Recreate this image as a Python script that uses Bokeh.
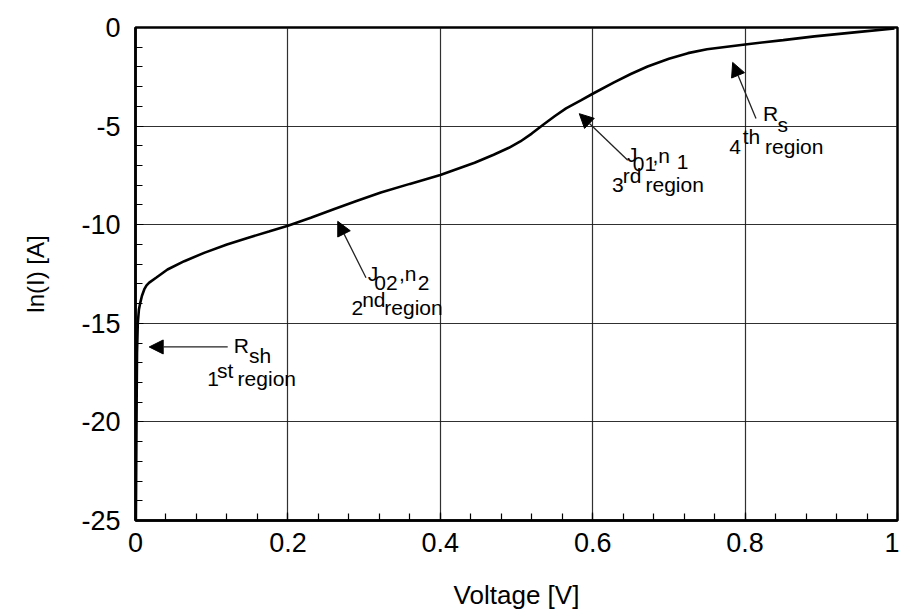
from bokeh.plotting import figure
from bokeh.models import (Range1d, FixedTicker, CustomJSTickFormatter, Arrow,
                          NormalHead, ColumnDataSource)
from bokeh.core.properties import value
from bokeh.embed import file_html
from bokeh.resources import INLINE

# ---- data ----
voltage = [0.0005, 0.001, 0.0015, 0.002, 0.003, 0.0045, 0.0063, 0.0085,
           0.0116, 0.0145, 0.018, 0.027, 0.042, 0.064, 0.09, 0.12, 0.147,
           0.175, 0.2, 0.23, 0.261, 0.29, 0.322, 0.36, 0.4, 0.445, 0.47,
           0.49, 0.505, 0.52, 0.535, 0.55, 0.565, 0.585, 0.6, 0.628, 0.65,
           0.672, 0.7, 0.725, 0.75, 0.8, 0.85, 0.891, 0.95, 0.996]
ln_current = [-25, -22, -19, -16.5, -15.0, -14.3, -13.95, -13.6,
              -13.27, -13.08, -12.94, -12.69, -12.27, -11.85, -11.43, -11.0, -10.67,
              -10.35, -10.05, -9.65, -9.2, -8.8, -8.37, -7.93, -7.48, -6.86, -6.45,
              -6.1, -5.78, -5.38, -4.93, -4.5, -4.1, -3.68, -3.36, -2.78, -2.36,
              -1.98, -1.58, -1.3, -1.1, -0.86, -0.64, -0.45, -0.22, -0.05]

x_ticks = [0, 0.2, 0.4, 0.6, 0.8, 1]
y_ticks = [-25, -20, -15, -10, -5, 0]
x_minor = [i * 0.04 for i in range(26)]
y_minor = list(range(-25, 1))

# annotation arrows: (tail x, tail y, tip x, tip y)
arrows = [
    (0.121, -16.2, 0.018, -16.2),
    (0.3025, -12.69, 0.2654, -9.83),
    (0.646, -6.73, 0.5824, -4.37),
    (0.8143, -4.62, 0.7837, -1.77),
]

# annotation text pieces: (text, x, y)
texts = [
    ("R", 0.129, -16.15), ("sh", 0.149, -16.65),
    ("1", 0.094, -17.82), ("st", 0.107, -17.4), ("region", 0.134, -17.82),

    ("J", 0.3047, -12.47), ("02", 0.3134, -12.94),
    (",n", 0.3458, -12.47), ("2", 0.3703, -12.97),
    ("2", 0.2835, -14.2), ("nd", 0.2975, -13.81), ("region", 0.3265, -14.2),

    ("J", 0.6449, -6.42), ("01", 0.6525, -6.92),
    (",n", 0.6785, -6.47), ("1", 0.7104, -6.84),
    ("3", 0.6253, -7.98), ("rd", 0.6394, -7.53), ("region", 0.6693, -7.98),

    ("R", 0.8235, -4.37), ("s", 0.8424, -4.91),
    ("4", 0.7793, -6.05), ("th", 0.7969, -5.52), ("region", 0.8262, -6.05),
]

FONT = "Liberation Sans"

p = figure(width=899, height=612, output_backend="svg", toolbar_location=None,
           x_range=Range1d(0, 1), y_range=Range1d(-25, 0),
           min_border_left=135, min_border_right=2, min_border_top=27,
           min_border_bottom=90)
p.background_fill_color = "white"
p.border_fill_color = "white"
p.outline_line_color = "black"
p.outline_line_width = 2.5

p.xaxis.ticker = FixedTicker(ticks=x_ticks, minor_ticks=x_minor)
p.yaxis.ticker = FixedTicker(ticks=y_ticks, minor_ticks=y_minor)
p.xaxis.formatter = CustomJSTickFormatter(code="return String(Math.round(tick*10)/10);")
p.yaxis.formatter = CustomJSTickFormatter(code="return String(Math.round(tick));")

for ax in (p.xaxis, p.yaxis):
    ax.axis_line_color = "black"
    ax.axis_line_width = 2.5
    ax.major_tick_in = 8
    ax.major_tick_out = 0
    ax.minor_tick_in = 7
    ax.minor_tick_out = 0
    ax.major_tick_line_color = "black"
    ax.minor_tick_line_color = "black"
    ax.major_tick_line_width = 1.2
    ax.minor_tick_line_width = 1.2
    ax.major_label_text_font = FONT
    ax.major_label_text_font_size = "27px"
    ax.major_label_text_color = "black"
    ax.axis_label_text_font = FONT
    ax.axis_label_text_font_style = "normal"
    ax.axis_label_text_color = "black"

p.xaxis.axis_label = "Voltage [V]"
p.yaxis.axis_label = "ln(I) [A]"
p.xaxis.axis_label_text_font_size = "26px"
p.yaxis.axis_label_text_font_size = "24px"
p.xaxis.major_label_standoff = 12
p.yaxis.major_label_standoff = 15
p.xaxis.axis_label_standoff = 25
p.yaxis.axis_label_standoff = 29

p.xgrid.ticker = FixedTicker(ticks=x_ticks)
p.ygrid.ticker = FixedTicker(ticks=y_ticks)
for g in (p.xgrid, p.ygrid):
    g.grid_line_color = "#1a1a1a"
    g.grid_line_width = 1.2
    g.grid_line_alpha = 0.9

p.line(voltage, ln_current, line_color="black", line_width=2.6)

for (x0, y0, x1, y1) in arrows:
    p.add_layout(Arrow(x_start=x0, y_start=y0, x_end=x1, y_end=y1,
                       line_color="#222", line_width=1.3,
                       end=NormalHead(size=14, fill_color="black",
                                      line_color="black")))

src = ColumnDataSource(dict(x=[t[1] for t in texts], y=[t[2] for t in texts],
                            text=[t[0] for t in texts]))
p.text(x="x", y="y", text="text", source=src, text_font=value(FONT),
       text_font_size="21px", text_align="left", text_baseline="alphabetic",
       text_color="black")

open("out.html", "w").write(file_html(p, INLINE))
